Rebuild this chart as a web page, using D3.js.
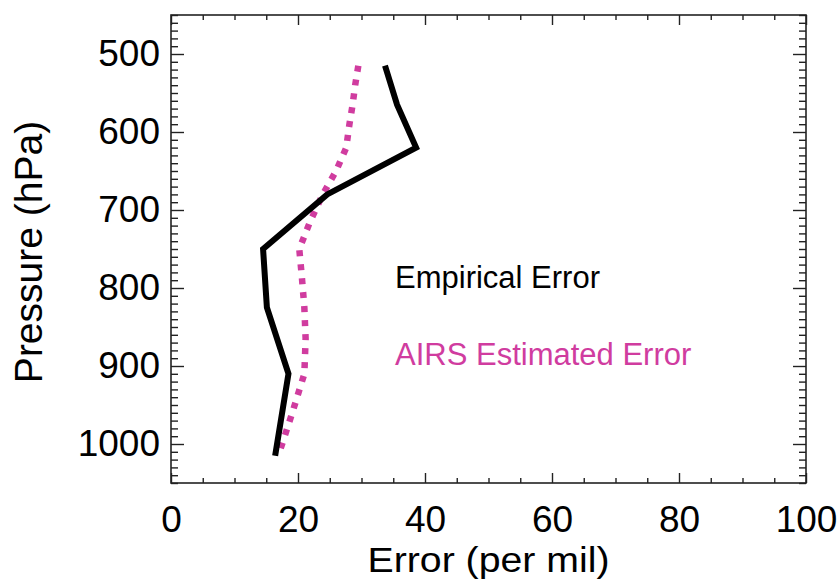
<html lang="en">
<head>
<meta charset="UTF-8">
<title>Error profile</title>
<script src="https://d3js.org/d3.v7.min.js"></script>
<style>
  body { margin: 0; background: #fff; }
  text { font-family: "Liberation Sans", Arial, sans-serif; }
</style>
</head>
<body>
<svg width="840" height="581"></svg>
<script>
    // values
    const empiricalPressure = [515, 565, 620, 680, 750, 825, 910, 1015];
    const empiricalError = [33.7, 35.6, 38.6, 24.6, 14.5, 15.1, 18.5, 16.4];

    const airsPressure = [515, 540, 565, 590, 620, 650, 680, 715, 750, 785, 825, 865, 910, 960, 1015];
    const airsError = [29.5, 29.0, 28.6, 28.1, 27.6, 26.0, 23.9, 21.9, 20.2, 20.6, 21.0, 21.2, 21.0, 19.1, 16.9];

    const xMajor = [0, 20, 40, 60, 80, 100];
    const yMajor = [500, 600, 700, 800, 900, 1000];

    const pink = "#d03c9f";

    const svg = d3.select("svg");
    const plotLeft = 171, plotRight = 806, plotTop = 15, plotBottom = 483;

    const x = d3.scaleLinear().domain([0, 100]).range([plotLeft, plotRight]);
    const y = d3.scaleLinear().domain([450, 1050]).range([plotTop, plotBottom]);

    const xMinor = d3.range(0, 101, 5).filter(v => v % 20 !== 0);
    const yMinor = d3.range(450, 1051, 10).filter(v => v % 100 !== 0);

    function styleAxis(g) {
        g.select(".domain").remove();
        g.selectAll(".tick line").attr("stroke", "#222").attr("stroke-width", 1.4);
        g.selectAll(".tick text").attr("fill", "#000").attr("font-size", 37)
            .attr("font-family", "Liberation Sans, Arial, sans-serif");
    }

    // bottom axis with labels
    svg.append("g").attr("transform", `translate(0,${plotBottom})`)
        .call(d3.axisBottom(x).tickValues(xMajor).tickSize(-10).tickPadding(23).tickFormat(d3.format("d")))
        .call(styleAxis);
    svg.append("g").attr("transform", `translate(0,${plotBottom})`)
        .call(d3.axisBottom(x).tickValues(xMinor).tickSize(-5).tickFormat(""))
        .call(styleAxis);
    // top mirror
    svg.append("g").attr("transform", `translate(0,${plotTop})`)
        .call(d3.axisTop(x).tickValues(xMajor).tickSize(-10).tickFormat(""))
        .call(styleAxis);
    svg.append("g").attr("transform", `translate(0,${plotTop})`)
        .call(d3.axisTop(x).tickValues(xMinor).tickSize(-5).tickFormat(""))
        .call(styleAxis);

    // left axis with labels
    svg.append("g").attr("transform", `translate(${plotLeft},0)`)
        .call(d3.axisLeft(y).tickValues(yMajor).tickSize(-13).tickPadding(11).tickFormat(d3.format("d")))
        .call(styleAxis);
    svg.append("g").attr("transform", `translate(${plotLeft},0)`)
        .call(d3.axisLeft(y).tickValues(yMinor).tickSize(-7).tickFormat(""))
        .call(styleAxis);
    // right mirror
    svg.append("g").attr("transform", `translate(${plotRight},0)`)
        .call(d3.axisRight(y).tickValues(yMajor).tickSize(-13).tickFormat(""))
        .call(styleAxis);
    svg.append("g").attr("transform", `translate(${plotRight},0)`)
        .call(d3.axisRight(y).tickValues(yMinor).tickSize(-7).tickFormat(""))
        .call(styleAxis);

    // frame
    svg.append("rect")
        .attr("x", plotLeft).attr("y", plotTop)
        .attr("width", plotRight - plotLeft).attr("height", plotBottom - plotTop)
        .attr("fill", "none").attr("stroke", "#222").attr("stroke-width", 1.6);

    const line = d3.line().x(d => x(d[1])).y(d => y(d[0]));

    svg.append("path")
        .datum(d3.zip(airsPressure, airsError))
        .attr("d", line)
        .attr("fill", "none")
        .attr("stroke", pink)
        .attr("stroke-width", 6.5)
        .attr("stroke-dasharray", "6,8");

    svg.append("path")
        .datum(d3.zip(empiricalPressure, empiricalError))
        .attr("d", line)
        .attr("fill", "none")
        .attr("stroke", "#000")
        .attr("stroke-width", 6)
        .attr("stroke-linejoin", "miter");

    // labels
    svg.append("text")
        .attr("x", (plotLeft + plotRight) / 2).attr("y", 572)
        .attr("text-anchor", "middle").attr("font-size", 35)
        .attr("textLength", 242).attr("lengthAdjust", "spacingAndGlyphs")
        .text("Error (per mil)");

    svg.append("text")
        .attr("transform", `translate(42,252) rotate(-90)`)
        .attr("text-anchor", "middle").attr("font-size", 39)
        .text("Pressure (hPa)");

    svg.append("text")
        .attr("x", 395).attr("y", 288)
        .attr("font-size", 31).attr("fill", "#000")
        .text("Empirical Error");

    svg.append("text")
        .attr("x", 395).attr("y", 365)
        .attr("font-size", 31).attr("fill", pink)
        .text("AIRS Estimated Error");
</script>
</body>
</html>
